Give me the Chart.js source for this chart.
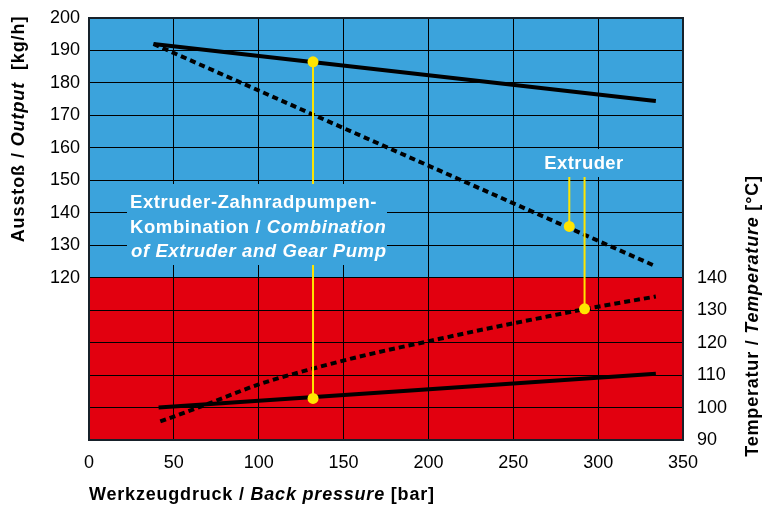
<!DOCTYPE html>
<html>
<head>
<meta charset="utf-8">
<script src="https://cdn.jsdelivr.net/npm/chart.js@4"></script>
<style>
  body { margin: 0; background: #fff; }
  #wrap { width: 763px; height: 505px; position: relative; }
</style>
</head>
<body>
<div id="wrap"><canvas id="chart"></canvas></div>
<script>
// Output (kg/h)
const outCombX = [38, 334];
const outCombY = [192, 174.4];
const outExtrX = [38, 334];
const outExtrY = [192, 123.5];

// Temperature (°C)
const tempCombX = [41, 334];
const tempCombY = [100, 110.4];
const tempExtrX = [42, 67, 101, 132, 165, 199, 230, 264, 292, 334];
const tempExtrY = [95.7, 100.5, 107.3, 112, 116.4, 120.3, 123.8, 127.4, 130.3, 134.2];

// yellow markers
const combMarkX = 132, combMarkOut = 186.5, combMarkTemp = 102.8;
const extrMarkX = [283, 292];
const extrMarkOut = 135.8, extrMarkTemp = 130.4;
const extrLabelLevel = 151;

const xTicks = [0, 50, 100, 150, 200, 250, 300, 350];
const outTicks = [120, 130, 140, 150, 160, 170, 180, 190, 200];
const tempTicks = [90, 100, 110, 120, 130, 140];

// temperature scale sits 20 units above the output scale
const TEMP_SHIFT = 20;

const BLUE = "#3ba3dc";
const RED = "#e2000f";
const YELLOW = "#ffe500";
const FONT = "'Liberation Sans', Arial, Helvetica, sans-serif";

Chart.defaults.font.family = FONT;
Chart.defaults.color = "#000";

const pts = (xs, ys) => xs.map((x, i) => ({ x: x, y: ys[i] }));

function drawRuns(ctx, runs, x, y, size, center, spacing) {
  ctx.letterSpacing = (spacing || 0) + "px";
  let total = 0;
  runs.forEach(r => {
    ctx.font = r[1] + " " + size + "px " + FONT;
    total += ctx.measureText(r[0]).width;
  });
  let cx = center ? x - total / 2 : x;
  runs.forEach(r => {
    ctx.font = r[1] + " " + size + "px " + FONT;
    ctx.fillText(r[0], cx, y);
    cx += ctx.measureText(r[0]).width;
  });
  ctx.letterSpacing = "0px";
}

const decor = {
  id: "decor",
  beforeDraw(chart) {
    const { ctx, chartArea: a, scales } = chart;
    const split = scales.y.getPixelForValue(120);
    ctx.save();
    ctx.fillStyle = BLUE;
    ctx.fillRect(a.left, a.top, a.right - a.left, split - a.top);
    ctx.fillStyle = RED;
    ctx.fillRect(a.left, split, a.right - a.left, a.bottom - split);
    ctx.restore();
  },
  afterDatasetsDraw(chart) {
    const { ctx, chartArea: a } = chart;
    ctx.save();
    // label boxes hide grid and yellow lines
    ctx.fillStyle = BLUE;
    ctx.fillRect(127, 184, 260, 81);
    ctx.fillRect(538, 149, 94, 28);

    ctx.fillStyle = "#fff";
    ctx.textBaseline = "alphabetic";
    drawRuns(ctx, [["Extruder-Zahnradpumpen-", "bold"]], 130, 208, 18.5, false, 0.6);
    drawRuns(ctx, [["Kombination / ", "bold"], ["Combination", "italic bold"]], 130, 233, 18.5, false, 0.6);
    drawRuns(ctx, [["of Extruder and Gear Pump", "italic bold"]], 131, 257, 18.5, false, 0.6);
    drawRuns(ctx, [["Extruder", "bold"]], 584, 169, 18.5, true, 0.4);

    // frame
    ctx.strokeStyle = "#17212a";
    ctx.lineWidth = 2;
    ctx.strokeRect(a.left, a.top, a.right - a.left, a.bottom - a.top);

    // axis titles
    ctx.fillStyle = "#000";
    drawRuns(ctx, [["Werkzeugdruck / ", "bold"], ["Back pressure", "italic bold"], [" [bar]", "bold"]], 89, 500, 18, false, 0.8);

    ctx.save();
    ctx.translate(24, 129);
    ctx.rotate(-Math.PI / 2);
    drawRuns(ctx, [["Ausstoß / ", "bold"], ["Output", "italic bold"], ["  [kg/h]", "bold"]], 0, 0, 18, true, 0.9);
    ctx.restore();

    ctx.save();
    ctx.translate(758, 316);
    ctx.rotate(-Math.PI / 2);
    drawRuns(ctx, [["Temperatur / ", "bold"], ["Temperature", "italic bold"], [" [°C]", "bold"]], 0, 0, 18, true, 0.8);
    ctx.restore();

    ctx.restore();
  }
};

const blackLine = (data, axis, dashed) => ({
  data: data,
  yAxisID: axis,
  showLine: true,
  borderColor: "#000",
  borderWidth: 4,
  borderDash: dashed ? [6, 4] : [],
  borderCapStyle: "butt",
  pointRadius: 0,
  tension: 0,
  cubicInterpolationMode: "monotone",
  order: 3
});

const yellowLine = (data) => ({
  data: data,
  yAxisID: "y",
  showLine: true,
  borderColor: YELLOW,
  borderWidth: 2,
  pointRadius: 0,
  order: 2
});

const yellowDots = (data, axis) => ({
  data: data,
  yAxisID: axis,
  showLine: false,
  pointRadius: 5.5,
  pointBackgroundColor: YELLOW,
  pointBorderWidth: 0,
  order: 1
});

const noPad = s => { s.paddingTop = 0; s.paddingBottom = 0; s.paddingLeft = 0; s.paddingRight = 0; };

new Chart(document.getElementById("chart"), {
  type: "scatter",
  data: {
    datasets: [
      blackLine(pts(outCombX, outCombY), "y", false),
      blackLine(pts(outExtrX, outExtrY), "y", true),
      blackLine(pts(tempCombX, tempCombY), "y2", false),
      blackLine(pts(tempExtrX, tempExtrY), "y2", true),
      yellowLine([{ x: combMarkX, y: combMarkOut }, { x: combMarkX, y: combMarkTemp - TEMP_SHIFT }]),
      yellowLine([{ x: extrMarkX[0], y: extrLabelLevel }, { x: extrMarkX[0], y: extrMarkOut }]),
      yellowLine([{ x: extrMarkX[1], y: extrLabelLevel }, { x: extrMarkX[1], y: extrMarkTemp - TEMP_SHIFT }]),
      yellowDots([{ x: combMarkX, y: combMarkOut }, { x: extrMarkX[0], y: extrMarkOut }], "y"),
      yellowDots([{ x: combMarkX, y: combMarkTemp }, { x: extrMarkX[1], y: extrMarkTemp }], "y2")
    ]
  },
  options: {
    responsive: true,
    maintainAspectRatio: false,
    animation: false,
    layout: { padding: { top: 18, left: 0, right: 0, bottom: 0 } },
    plugins: { legend: { display: false }, tooltip: { enabled: false } },
    scales: {
      x: {
        type: "linear",
        min: xTicks[0],
        max: xTicks[xTicks.length - 1],
        afterBuildTicks: s => { s.ticks = xTicks.map(v => ({ value: v })); },
        afterFit: s => { s.height = 65; noPad(s); },
        grid: { color: "#000", lineWidth: 1, drawTicks: false },
        border: { display: false },
        ticks: { padding: 12, font: { size: 18 }, color: "#000" }
      },
      y: {
        type: "linear",
        position: "left",
        min: 70,
        max: 200,
        afterBuildTicks: s => {
          const t = [];
          for (let v = 70; v <= 200; v += 10) t.push({ value: v });
          s.ticks = t;
        },
        afterFit: s => { s.width = 89; noPad(s); },
        grid: { color: "#000", lineWidth: 1, drawTicks: false },
        border: { display: false },
        ticks: {
          padding: 9,
          font: { size: 18 },
          color: "#000",
          callback: v => outTicks.includes(v) ? String(v) : ""
        }
      },
      y2: {
        type: "linear",
        position: "right",
        min: 70 + TEMP_SHIFT,
        max: 200 + TEMP_SHIFT,
        afterBuildTicks: s => { s.ticks = tempTicks.map(v => ({ value: v })); },
        afterFit: s => { s.width = 80; noPad(s); },
        grid: { display: false, drawTicks: false },
        border: { display: false },
        ticks: { padding: 14, font: { size: 18 }, color: "#000" }
      }
    }
  },
  plugins: [decor]
});
</script>
</body>
</html>
